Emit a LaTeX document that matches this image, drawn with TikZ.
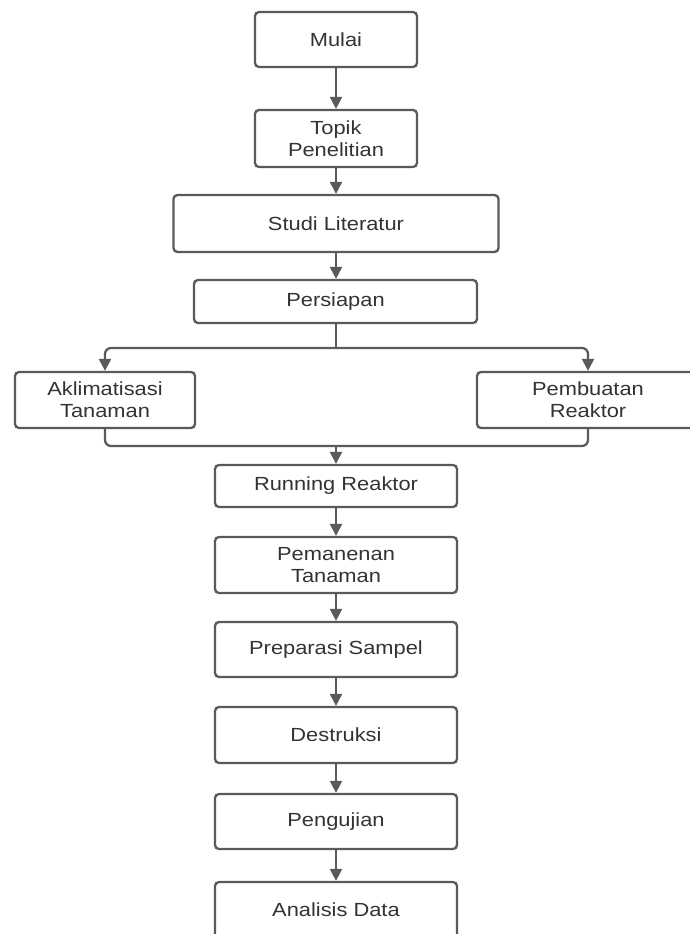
\documentclass[tikz,border=0pt]{standalone}
\usepackage{fontspec}
\setmainfont[FakeStretch=1.15]{Liberation Sans}
\usetikzlibrary{arrows.meta}
\definecolor{linegrey}{HTML}{5A5A5A}
\definecolor{textgrey}{HTML}{333333}
\begin{document}
\begin{tikzpicture}[x=1pt,y=-1pt,
  box/.style={draw=linegrey, line width=2.3pt, rounded corners=4pt, fill=white,
    text=textgrey, align=center, inner sep=0pt,
    font=\fontsize{19}{22}\selectfont},
  conn/.style={draw=linegrey, line width=2.3pt},
  arr/.style={conn, -{Triangle[width=12pt,length=12pt]}}]
\useasboundingbox (0,0) rectangle (690,934);
\clip (0,0) rectangle (690,934);
\fill[white] (0,0) rectangle (690,934);

\node[box, minimum width=162pt, minimum height=55pt] (mulai) at (336,39.5) {Mulai};
\node[box, minimum width=162pt, minimum height=57pt] (topik) at (336,138.5) {Topik\\Penelitian};
\node[box, minimum width=325pt, minimum height=57pt] (studi) at (336,223.5) {Studi Literatur};
\node[box, minimum width=283pt, minimum height=43pt] (persiapan) at (335.5,301.5) {Persiapan};
\node[box, minimum width=180pt, minimum height=56pt] (akl) at (105,400) {Aklimatisasi\\Tanaman};
\node[box, minimum width=222pt, minimum height=56pt] (pemb) at (588,400) {Pembuatan\\Reaktor};
\node[box, minimum width=242pt, minimum height=42pt] (running) at (336,486) {Running Reaktor};
\node[box, minimum width=242pt, minimum height=56pt] (panen) at (336,565) {Pemanenan\\Tanaman};
\node[box, minimum width=242pt, minimum height=55pt] (prep) at (336,649.5) {Preparasi Sampel};
\node[box, minimum width=242pt, minimum height=56pt] (destruksi) at (336,735) {Destruksi};
\node[box, minimum width=242pt, minimum height=55pt] (uji) at (336,821.5) {Pengujian};
\node[box, minimum width=242pt, minimum height=56pt] (analisis) at (336,910) {Analisis Data};

\coordinate (split) at (336,348);
\coordinate (merge) at (336,446);

\draw[arr] (mulai) -- (topik);
\draw[arr] (topik) -- (studi);
\draw[arr] (studi) -- (persiapan.north -| studi.south);
\draw[conn] (persiapan.south -| split) -- (split);
\draw[arr, rounded corners=6pt] (split) -| (akl.north);
\draw[arr, rounded corners=6pt] (split) -| (pemb.north);
\draw[conn, rounded corners=6pt] (akl.south) |- (merge) -| (pemb.south);
\draw[arr] (merge) -- (running.north);
\draw[arr] (running) -- (panen);
\draw[arr] (panen) -- (prep);
\draw[arr] (prep) -- (destruksi);
\draw[arr] (destruksi) -- (uji);
\draw[arr] (uji) -- (analisis);
\end{tikzpicture}
\end{document}
